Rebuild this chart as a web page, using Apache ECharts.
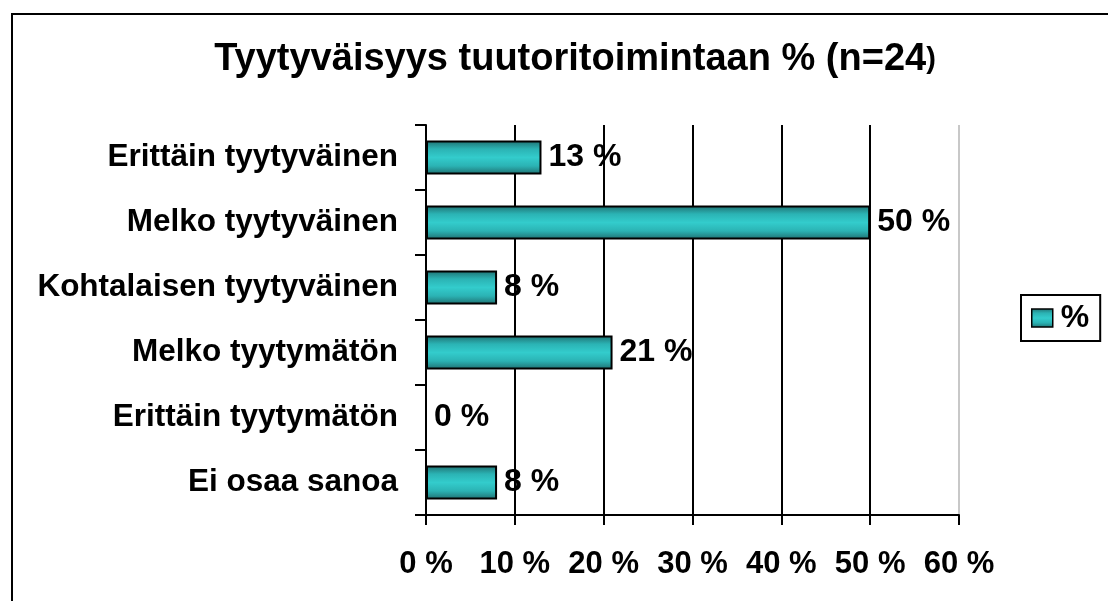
<!DOCTYPE html>
<html><head><meta charset="utf-8">
<script src="https://cdn.jsdelivr.net/npm/echarts@6/dist/echarts.min.js"></script>
<style>html,body{margin:0;padding:0;background:#fff;}#c{width:1108px;height:601px;}</style>
</head><body><div id="c"></div>
<script>
const titleMain = 'Tyytyväisyys tuutoritoimintaan % (n=24';
const titleEnd = ')';
const categories = ['Erittäin tyytyväinen','Melko tyytyväinen','Kohtalaisen tyytyväinen','Melko tyytymätön','Erittäin tyytymätön','Ei osaa sanoa'];
const values = [13, 50, 8, 21, 0, 8];
const seriesName = '%';
const xTicks = [0, 10, 20, 30, 40, 50, 60];

const font = 'Liberation Sans, Arial, sans-serif';
const barGrad = new echarts.graphic.LinearGradient(0,0,0,1,[
  {offset:0, color:'#1f6f70'},
  {offset:0.25, color:'#2bb3b4'},
  {offset:0.5, color:'#33cccc'},
  {offset:0.75, color:'#2bb3b4'},
  {offset:1, color:'#1f6f70'}
]);
const chart = echarts.init(document.getElementById('c'));
chart.setOption({
  animation:false,
  backgroundColor:'#fff',
  graphic:[{type:'rect', shape:{x:12,y:14,width:1200,height:700}, style:{fill:'none',stroke:'#000',lineWidth:2}, z:-1}],
  title:{text:'{a|' + titleMain + '}{b|' + titleEnd + '}', left:570, textAlign:'center', top:36,
    textStyle:{rich:{
      a:{fontFamily:font, fontWeight:'bold', fontSize:38, color:'#000'},
      b:{fontFamily:font, fontWeight:'bold', fontSize:29, color:'#000'}
    }}},
  legend:{data:[seriesName], left:1021, top:295, orient:'vertical', icon:'rect',
    borderColor:'#000', borderWidth:2, padding:[7,11,7,10],
    itemWidth:21, itemHeight:18, itemGap:4,
    itemStyle:{borderColor:'#000', borderWidth:1.5},
    textStyle:{fontFamily:font, fontWeight:'bold', fontSize:32, color:'#000', padding:[0,0,0,3]}},
  grid:{left:426, right:149, top:125, bottom:86, containLabel:false},
  xAxis:{type:'value', min:xTicks[0], max:xTicks[xTicks.length-1], interval:10,
    axisLine:{show:true, lineStyle:{color:'#000', width:2}},
    axisTick:{show:true, length:10, lineStyle:{color:'#000', width:2}},
    splitLine:{show:true, lineStyle:{color:['#000','#000','#000','#000','#000','#000','#c8c8c8'], width:2}},
    axisLabel:{formatter:'{value} %', margin:34, fontFamily:font, fontWeight:'bold', fontSize:31, color:'#000'}},
  yAxis:{type:'category', data:categories, inverse:true,
    axisLine:{show:true, lineStyle:{color:'#000', width:2}},
    axisTick:{show:true, length:11, alignWithLabel:false, lineStyle:{color:'#000', width:2}},
    axisLabel:{margin:28, fontFamily:font, fontWeight:'bold', fontSize:31.5, color:'#000'}},
  series:[{name:seriesName, type:'bar', data:values, barWidth:'52%',
    itemStyle:{color:barGrad, borderColor:'#000', borderWidth:2},
    label:{show:true, position:'right', distance:7, formatter:'{c} %',
      fontFamily:font, fontWeight:'bold', fontSize:32, color:'#000'}}]
});
</script></body></html>
